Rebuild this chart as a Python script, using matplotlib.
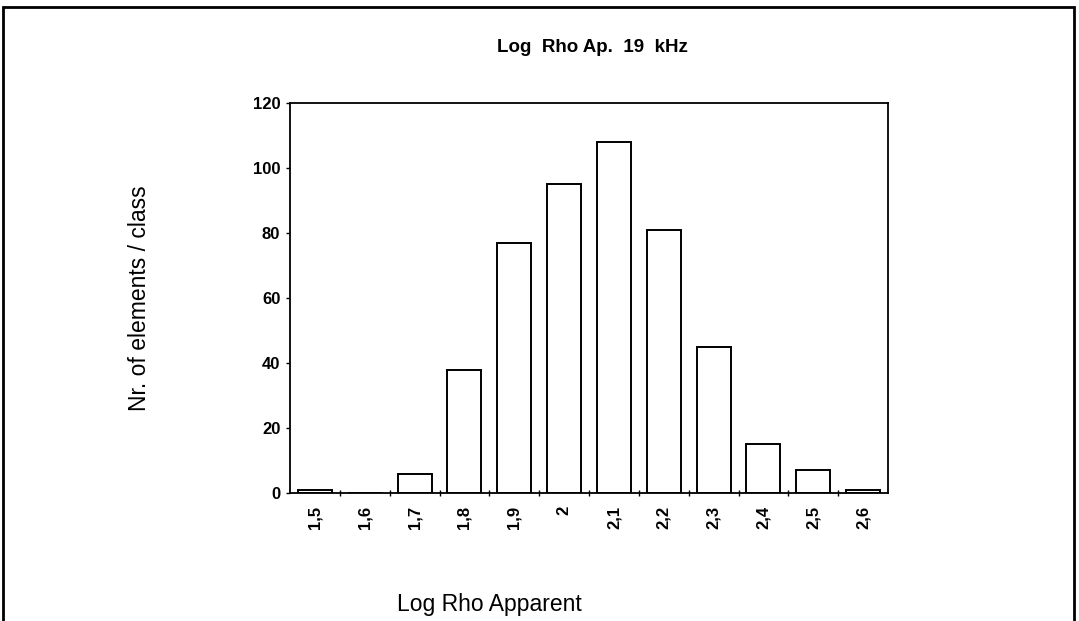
import matplotlib.pyplot as plt
from matplotlib.patches import Rectangle

# classes of log apparent resistivity and counts per class
classes = ['1,5', '1,6', '1,7', '1,8', '1,9', '2', '2,1', '2,2', '2,3', '2,4', '2,5', '2,6']
counts = [1, 0, 6, 38, 77, 95, 108, 81, 45, 15, 7, 1]

plt.rcParams['font.family'] = ['Liberation Sans', 'DejaVu Sans']

fig = plt.figure(figsize=(10.79, 6.21), dpi=100)
ax = fig.add_axes([290 / 1079, 1 - 493 / 621, 598 / 1079, 390 / 621])

pos = list(range(len(classes)))
ax.bar(pos, counts, width=0.68, color='white', edgecolor='black', linewidth=1.4)

ax.set_xlim(-0.5, len(classes) - 0.5)
ax.set_ylim(0, 120)
ax.set_yticks(range(0, 121, 20))
ax.set_yticklabels([str(v) for v in range(0, 121, 20)], fontsize=12, fontweight='bold')
ax.set_xticks(pos)
ax.set_xticklabels(classes, rotation=90, fontsize=12, fontweight='bold')
ax.tick_params(axis='x', length=0, pad=9)
ax.set_xticks([p + 0.5 for p in pos[:-1]], minor=True)
ax.tick_params(axis='x', which='minor', length=4, direction='inout', width=1)
ax.tick_params(axis='y', length=3, direction='out', width=1, pad=4)
for s in ax.spines.values():
    s.set_linewidth(1.3)

fig.text(592 / 1079, 1 - 47 / 621, 'Log  Rho Ap.  19  kHz', ha='center', va='center',
         fontsize=13.5, fontweight='bold')
fig.text(140 / 1079, 1 - 298 / 621, 'Nr. of elements / class', rotation=90,
         ha='center', va='center', fontsize=16.5)
fig.text(489 / 1079, 1 - 604 / 621, 'Log Rho Apparent', ha='center', va='center', fontsize=16.5)

# outer frame of the chart area
fig.patches.append(Rectangle((3 / 1079, -0.05), 1071 / 1079, 1.05 - 7 / 621,
                             transform=fig.transFigure, fill=False,
                             edgecolor='black', linewidth=2))

fig.savefig('out.png', dpi=100)
